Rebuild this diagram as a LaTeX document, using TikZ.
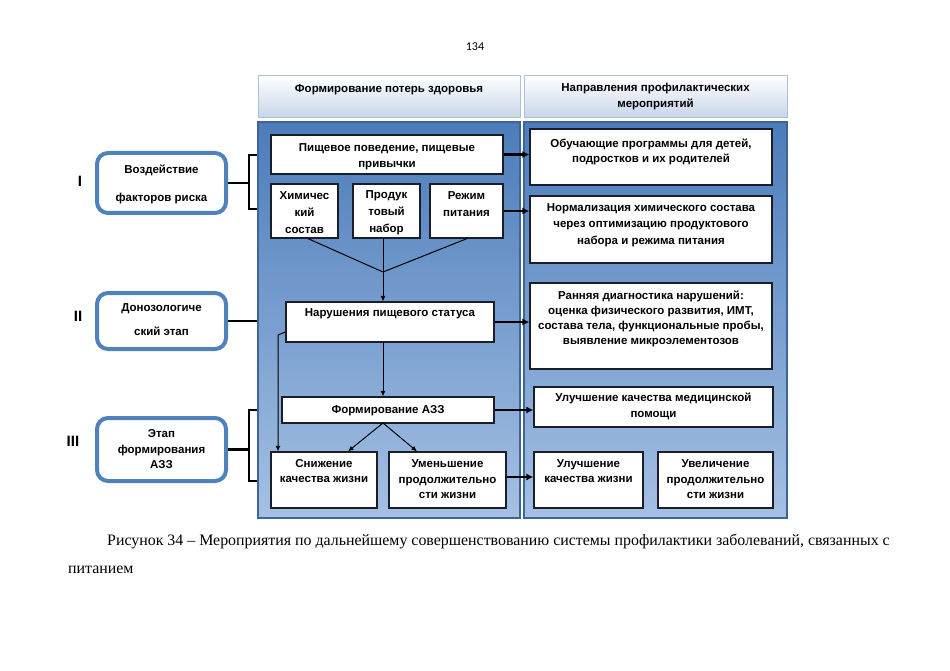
\documentclass[tikz,border=0pt]{standalone}
\usepackage{fontspec}
\setmainfont{Liberation Serif}
\newfontfamily\arial{Liberation Sans}
\newfontfamily\calib{Carlito}
\usetikzlibrary{arrows.meta}
\definecolor{panTop}{RGB}{76,124,186}
\definecolor{panBot}{RGB}{165,193,228}
\definecolor{panEdge}{RGB}{62,100,152}
\definecolor{hdrBot}{RGB}{198,213,233}
\definecolor{hdrEdge}{RGB}{172,192,218}
\definecolor{rbord}{RGB}{79,129,189}
\definecolor{boxEdge}{RGB}{25,30,40}
\begin{document}
\begin{tikzpicture}[x=1pt,y=-1pt,
  hdr/.style={draw=hdrEdge, line width=1pt, top color=white, bottom color=hdrBot, minimum width=#1, inner sep=0, minimum height=42pt},
  pan/.style={draw=panEdge, line width=1.5pt, top color=panTop, bottom color=panBot, minimum width=#1, minimum height=396pt, inner sep=0},
  rbox/.style={draw=rbord, line width=4pt, rounded corners=11pt, fill=white, minimum width=129pt, minimum height=#1, inner sep=0},
  ibox/.style={draw=boxEdge, line width=1.2pt, fill=white, inner sep=0},
  tx/.style={font=\arial\bfseries\fontsize{11.5}{15.5}\selectfont, align=center, inner sep=0, text=black, yshift=-1.5pt},
  txs/.style={font=\arial\bfseries\fontsize{11.5}{17}\selectfont, align=center, inner sep=0, text=black, yshift=-1.5pt},
  rom/.style={font=\arial\bfseries\fontsize{15}{18}\selectfont, inner sep=0},
  thick arr/.style={line width=2.2pt, -{Latex[length=7pt,width=7pt]}},
  thin arr/.style={line width=1pt, -{Latex[length=5.5pt,width=5pt]}},
  brk/.style={line width=2.4pt}
]
\useasboundingbox (0,0) rectangle (950,671);

% page number
\node[font=\calib\fontsize{12}{14}\selectfont, inner sep=0] (pg) at (475,47) {134};

% headers
\node[hdr=262pt] (hdrL) at (389,97) {};
\node[hdr=263pt] (hdrR) at (655.5,97) {};
\node[tx] (thL) at (389,88) {Формирование потерь здоровья};
\node[tx] (thR) at (655.5,95) {Направления профилактических\\мероприятий};

% panels
\node[pan=262pt] (panL) at (389,320) {};
\node[pan=263pt] (panR) at (655.5,320) {};

% left rounded boxes
\node[rbox=60pt] (r1) at (161.5,183) {};
\node[tx, font=\arial\bfseries\fontsize{11.5}{28}\selectfont] (t1) at (161.5,182.5) {Воздействие\\факторов риска};
\node[rbox=56pt] (r2) at (161.5,321) {};
\node[tx, font=\arial\bfseries\fontsize{11.5}{24}\selectfont] (t2) at (161.5,318.5) {Донозологиче\\ский этап};
\node[rbox=63pt] (r3) at (161.5,449.5) {};
\node[tx] (t3) at (161.5,448) {Этап\\формирования\\АЗЗ};

% roman numerals
\node[rom] (n1) at (80,181) {I};
\node[rom] (n2) at (78,316) {II};
\node[rom] (n3) at (73,441) {III};

% left inner boxes
\node[ibox, minimum width=232pt, minimum height=39pt] (pp) at (387,154.5) {};
\node[tx, font=\arial\bfseries\fontsize{11.5}{16}\selectfont] (tpp) at (387,155) {Пищевое поведение, пищевые\\привычки};
\node[ibox, minimum width=67pt, minimum height=54pt] (ch) at (304.5,211) {};
\node[txs] (tch) at (304.5,211) {Химичес\\кий\\состав};
\node[ibox, minimum width=67pt, minimum height=54pt] (pr) at (386.5,211) {};
\node[txs] (tpr) at (386.5,211) {Продук\\товый\\набор};
\node[ibox, minimum width=73pt, minimum height=54pt] (rz) at (466.5,211) {};
\node[txs] (trz) at (466.5,202.5) {Режим\\питания};
\node[ibox, minimum width=208pt, minimum height=40pt] (ns) at (390,322) {};
\node[tx] (tns) at (390,312) {Нарушения пищевого статуса};
\node[ibox, minimum width=212pt, minimum height=26pt] (fa) at (388,410) {};
\node[tx] (tfa) at (388,409.5) {Формирование АЗЗ};
\node[ibox, minimum width=106pt, minimum height=56pt] (sn) at (324,480) {};
\node[tx] (tsn) at (324,469.5) {Снижение\\качества жизни};
\node[ibox, minimum width=117pt, minimum height=56pt] (um) at (447.5,480) {};
\node[tx] (tum) at (447.5,478) {Уменьшение\\продолжительно\\сти жизни};

% right inner boxes
\node[ibox, minimum width=242pt, minimum height=56pt] (ob) at (651,157) {};
\node[tx] (tob) at (651,150.5) {Обучающие программы для детей,\\подростков и их родителей};
\node[ibox, minimum width=242pt, minimum height=67pt] (nr) at (651,229.5) {};
\node[tx, font=\arial\bfseries\fontsize{11.5}{16.5}\selectfont] (tnr) at (651,223.5) {Нормализация химического состава\\через оптимизацию продуктового\\набора и режима питания};
\node[ibox, minimum width=242pt, minimum height=86pt] (rd) at (651,326) {};
\node[tx, font=\arial\bfseries\fontsize{11.5}{15}\selectfont] (trd) at (651,317.5) {Ранняя диагностика нарушений:\\оценка физического развития, ИМТ,\\состава тела, функциональные пробы,\\выявление микроэлементозов};
\node[ibox, minimum width=239pt, minimum height=40pt] (mp) at (653.5,407) {};
\node[tx, font=\arial\bfseries\fontsize{11.5}{16}\selectfont] (tmp) at (653.5,405) {Улучшение качества медицинской\\помощи};
\node[ibox, minimum width=109pt, minimum height=56pt] (uk) at (588.5,480) {};
\node[tx] (tuk) at (588.5,469.5) {Улучшение\\качества жизни};
\node[ibox, minimum width=115pt, minimum height=56pt] (uv) at (715.5,480) {};
\node[tx] (tuv) at (715.5,478) {Увеличение\\продолжительно\\сти жизни};

% brackets
\coordinate (b1a) at (249,155);
\coordinate (b1b) at (249,209);
\draw[brk] (r1.east) -- (249,183);
\draw[brk] (panL.west |- b1a) -- (b1a) -- (b1b) -- (panL.west |- b1b);
\draw[brk] (r2.east) -- (panL.west |- r2.east);
\coordinate (b3a) at (249,410);
\coordinate (b3b) at (249,481);
\draw[brk] (r3.east) -- (249,449.5);
\draw[brk] (panL.west |- b3a) -- (b3a) -- (b3b) -- (panL.west |- b3b);

% convergence
\coordinate (conv) at (383,272);
\draw[line width=1pt] (ch.south -| 308,0) -- (conv);
\draw[line width=1pt] (pr.south -| 383,0) -- (conv);
\draw[line width=1pt] (rz.south -| 467,0) -- (conv);
\draw[thin arr] (conv) -- (conv |- ns.north);
\draw[thin arr] (ns.south -| conv) -- (fa.north -| conv);
\coordinate (fab) at (383,423);
\draw[thin arr] (fab) -- (sn.north -| 348,0);
\draw[thin arr] (fab) -- (um.north -| 417,0);
\coordinate (nsl) at (278,335);
\draw[thin arr] (ns.west |- 0,332) -- (nsl) -- (sn.north -| nsl);

% thick arrows
\draw[thick arr] (pp.east) -- (ob.west |- pp.east);
\draw[thick arr] (rz.east |- 0,211) -- (nr.west |- 0,211);
\draw[thick arr] (ns.east) -- (rd.west |- ns.east);
\draw[thick arr] (fa.east) -- (mp.west |- fa.east);
\draw[thick arr] (um.east |- 0,477) -- (uk.west |- 0,477);

% caption
\node[anchor=base west, inner sep=0, font=\fontsize{15.9}{20}\selectfont] (cap1) at (107,545) {Рисунок 34 – Мероприятия по дальнейшему совершенствованию системы профилактики заболеваний, связанных с};
\node[anchor=base west, inner sep=0, font=\fontsize{15.9}{20}\selectfont] (cap2) at (68,573) {питанием};
\end{tikzpicture}
\end{document}
